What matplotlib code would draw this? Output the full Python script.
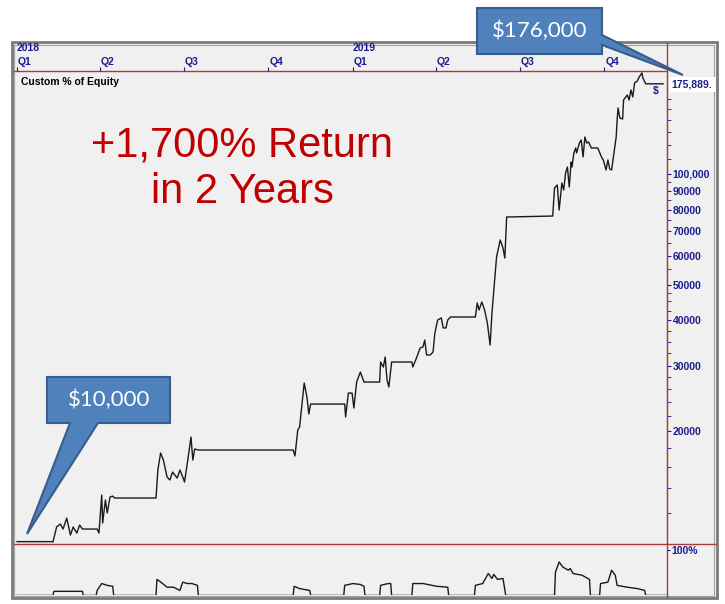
import numpy as np
import matplotlib.pyplot as plt
from matplotlib.patches import Rectangle, Polygon
from matplotlib.ticker import NullFormatter

plt.rcParams['font.family'] = ['Liberation Sans', 'DejaVu Sans']

W, H = 725, 604

# equity curve: day since 1 Jan 2018, account value in $
eq_days = [0, 38, 39, 43, 47, 50, 54, 58, 61, 65, 68, 71, 87, 89, 92, 93, 96, 98, 101, 104, 106,
           151, 153, 156, 159, 163, 166, 169, 174, 177, 180, 182, 186, 189, 191, 193, 197,
           300, 302, 305, 307, 312, 315, 317, 319, 356, 357, 360, 364, 366, 369, 373, 377,
           394, 395, 398, 400, 402, 404, 407, 429, 430, 434, 438, 441, 443, 445, 449, 452, 454,
           457, 461, 463, 466, 468, 471, 498, 500, 502, 505, 508, 511, 514, 516, 519, 521, 525,
           528, 530, 532, 582, 584, 587, 589, 592, 594, 596, 598, 600, 602, 603, 605, 607, 608,
           611, 613, 615, 617, 619, 621, 624, 631, 635, 637, 640, 642, 644, 646, 649, 651, 652,
           653, 655, 658, 659, 663, 665, 667, 669, 671, 674, 676, 679, 680, 683, 702]
eq_values = [10000, 10000, 9975, 10960, 11165, 10820, 11590, 10420, 10960, 10550, 11095, 10820,
             10820, 10550, 13390, 11235, 12980, 11965, 13220, 13300, 13140,
             13140, 15660, 17420, 16670, 14990, 14710, 15460, 14890, 15660, 14990, 14530, 16990,
             19250, 16670, 17860, 17750,
             17750, 17100, 20120, 20500, 27000, 24730, 22240, 23670, 23670, 21830, 25360, 25360,
             23090, 27170, 28920, 27170,
             27170, 30800, 29850, 31780, 27530, 26350, 30800, 30800, 29850, 31590, 33620, 33830,
             35340, 32190, 32190, 32800, 36940,
             40070, 40580, 38130, 38130, 40070, 40830, 40830, 44570, 42660, 44850, 42660, 39330,
             34250, 41860, 51460, 59440, 66140,
             62900, 59070, 76370, 76850, 91600, 93350, 79800, 94520, 90460, 100630, 104470, 92180,
             107790, 104470, 114050, 117690, 114050,
             121430, 123740, 111230, 126090, 121430, 122210, 117690, 117690, 111230, 109160, 102540,
             109160, 103180, 102540, 116230, 126090, 140250,
             151160, 142000, 141120, 158960, 164030, 158960, 169260, 162000, 176860, 179080,
             183620, 188280, 182450, 175889, 175889]

# lower pane, % of equity
lo_days = [0, 39, 40, 71, 72,
           86, 87, 92, 98, 104, 105,
           151, 152, 155, 163, 170, 177, 180, 185, 190, 196, 197,
           300, 301, 307, 318, 319,
           355, 356, 365, 373, 377, 378,
           394, 395, 403, 406, 407,
           429, 430, 441, 456, 468, 469,
           497, 498, 506, 512, 516, 518, 522, 528, 531,
           584, 585, 589, 593, 599, 601, 604, 614, 622, 623,
           633, 634, 642, 646, 650, 652, 663, 674, 682, 683,
           706]
lo_pct = [0, 0, 9, 9, 0,
          0, 11, 26, 22, 20, 0,
          0, 35, 31, 18, 18, 11, 29, 26, 26, 22, 0,
          0, 20, 15, 11, 0,
          0, 22, 26, 24, 20, 0,
          0, 22, 26, 26, 0,
          0, 26, 26, 20, 18, 0,
          0, 22, 26, 48, 37, 46, 35, 37, 0,
          0, 51, 73, 62, 55, 59, 48, 44, 35, 0,
          0, 26, 29, 55, 44, 22, 18, 15, 11, 0,
          0]

quarter_days = [0, 90, 181, 273, 365, 455, 546, 638]
quarter_labels = ['Q1', 'Q2', 'Q3', 'Q4', 'Q1', 'Q2', 'Q3', 'Q4']
year_days = [0, 365]
year_labels = ['2018', '2019']

ytick_vals = [20000, 30000, 40000, 50000, 60000, 70000, 80000, 90000, 100000]
ytick_labels = ['20000', '30000', '40000', '50000', '60000', '70000', '80000', '90000', '100,000']
yminor_vals = [12000, 14000, 16000, 18000, 22000, 24000, 26000, 28000, 32500, 35000, 37500,
               42500, 45000, 47500, 55000, 65000, 75000, 85000, 95000, 110000, 120000,
               130000, 140000, 150000, 160000]

navy = '#1c1c8c'
redl = '#b03a3a'
panel = '#f0f0f0'
xlim = (-3.3, 706.2)


def box(x0, y0, x1, y1):
    return [x0 / W, 1 - y1 / H, (x1 - x0) / W, (y1 - y0) / H]


fig = plt.figure(figsize=(W / 100, H / 100), dpi=100)

# background, frame and red separator lines in pixel coords
bg = fig.add_axes([0, 0, 1, 1], zorder=0)
bg.set_xlim(0, W)
bg.set_ylim(H, 0)
bg.axis('off')
bg.add_patch(Rectangle((12, 42), 705, 556, facecolor=panel, edgecolor='#7a7a7a', lw=2))
bg.add_patch(Rectangle((14.5, 44.5), 700, 551, facecolor='none', edgecolor='#a0a0a0', lw=0.8))
bg.plot([667, 667], [43, 597], color=redl, lw=1)
bg.plot([14, 716], [544, 544], color=redl, lw=1)
bg.plot([14, 667], [71, 71], color=redl, lw=1)

# date strip
ax_top = fig.add_axes(box(14, 43, 667, 71), zorder=2)
ax_top.set_xlim(*xlim)
ax_top.set_ylim(0, 1)
ax_top.patch.set_visible(False)
for s in ax_top.spines.values():
    s.set_visible(False)
ax_top.set_yticks([])
ax_top.set_xticks(quarter_days)
ax_top.tick_params(axis='x', direction='in', length=3, color=navy, labelbottom=False, pad=0)
for d, lab in zip(quarter_days, quarter_labels):
    ax_top.text(d + 1, 0.32, lab, ha='left', va='center', fontsize=7.5, fontweight='bold', color=navy)
for d, lab in zip(year_days, year_labels):
    ax_top.text(d, 0.82, lab, ha='left', va='center', fontsize=7.5, fontweight='bold', color=navy)

# main equity pane
ax = fig.add_axes(box(14, 71, 667, 544), zorder=2)
ax.patch.set_visible(False)
ax.plot(eq_days, eq_values, color='#1a1a1a', lw=1.0)
ax.set_yscale('log')
ax.set_xlim(*xlim)
ax.set_ylim(9852, 190600)
for k in ['top', 'left', 'bottom']:
    ax.spines[k].set_visible(False)
ax.spines['right'].set_color(redl)
ax.set_xticks([])
ax.yaxis.tick_right()
ax.set_yticks(ytick_vals, ytick_labels)
ax.set_yticks(yminor_vals, minor=True)
ax.yaxis.set_minor_formatter(NullFormatter())
ax.tick_params(axis='y', which='both', direction='out', length=3, color=navy, pad=1,
               labelsize=7.5, labelcolor=navy)
for t in ax.get_yticklabels():
    t.set_fontweight('bold')
ax.text(0.01, 0.977, 'Custom % of Equity', transform=ax.transAxes, ha='left', va='center',
        fontsize=7.5, fontweight='bold', color='black')

# lower pane
ax_low = fig.add_axes(box(14, 544, 667, 595), zorder=2)
ax_low.patch.set_visible(False)
ax_low.plot(lo_days, lo_pct, color='#1a1a1a', lw=1.0)
ax_low.set_xlim(*xlim)
ax_low.set_ylim(1, 112.2)
for k in ['top', 'left', 'bottom', 'right']:
    ax_low.spines[k].set_visible(False)
ax_low.set_xticks([])
ax_low.yaxis.tick_right()
ax_low.set_yticks([100], ['100%'])
ax_low.tick_params(axis='y', direction='out', length=2, color=navy, pad=1,
                   labelsize=7.5, labelcolor=navy)
for t in ax_low.get_yticklabels():
    t.set_fontweight('bold')

# overlay: annotations and callouts
ov = fig.add_axes([0, 0, 1, 1], zorder=5)
ov.set_xlim(0, W)
ov.set_ylim(H, 0)
ov.axis('off')

ov.add_patch(Rectangle((669, 77), 47, 15, facecolor='white', edgecolor='none'))
ov.text(671, 84.5, '175,889.', ha='left', va='center', fontsize=7.5, fontweight='bold', color=navy)
ov.text(656, 91, '$', ha='center', va='center', fontsize=7.5, fontweight='bold', color=navy)

ov.text(242, 157, '+1,700% Return', ha='center', va='baseline', fontsize=30, color='#c00000')
ov.text(242, 203, 'in 2 Years', ha='center', va='baseline', fontsize=30, color='#c00000')

call_fill = '#4f81bd'
call_edge = '#385d8a'
ov.add_patch(Polygon([(477, 8), (602, 8), (602, 35), (683, 75), (602, 45), (602, 54), (477, 54)],
                     closed=True, facecolor=call_fill, edgecolor=call_edge, lw=1.5))
ov.text(540, 31, '$176,000', ha='center', va='center', fontsize=16, color='white', family='Lato')
ov.add_patch(Polygon([(47, 377), (170, 377), (170, 423), (98, 423), (27, 534), (70, 423), (47, 423)],
                     closed=True, facecolor=call_fill, edgecolor=call_edge, lw=1.5))
ov.text(109, 400, '$10,000', ha='center', va='center', fontsize=16, color='white', family='Lato')

plt.savefig('out.png', dpi=100)
